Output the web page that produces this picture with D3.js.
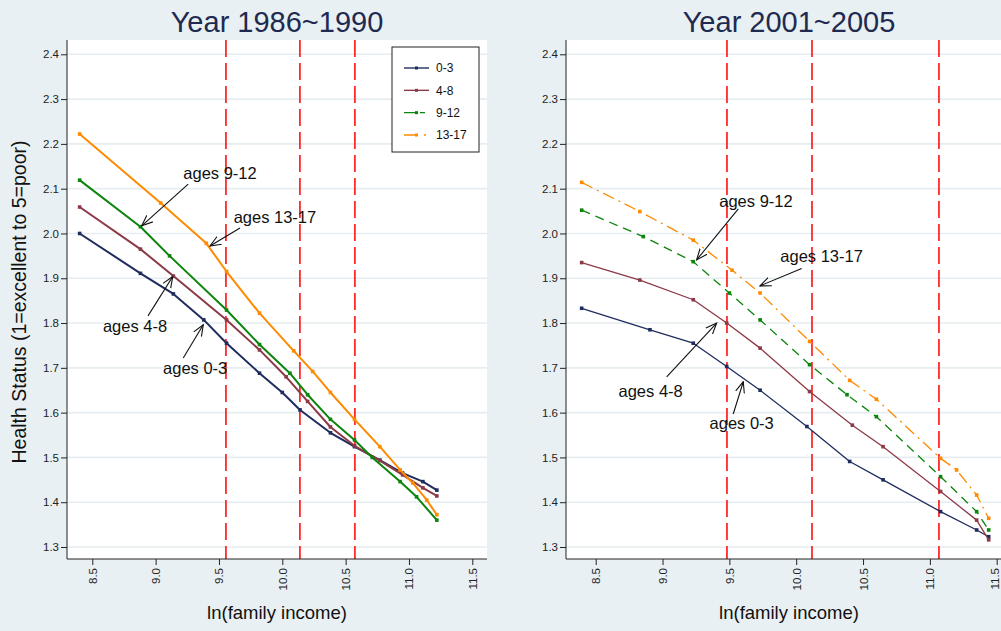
<!DOCTYPE html>
<html>
<head>
<meta charset="utf-8">
<script src="https://cdn.jsdelivr.net/npm/d3@7"></script>
<style>
	body { margin: 0; background: #e9f0f3; }
	text { font-family: "Liberation Sans", Arial, sans-serif; }
</style>
</head>
<body>
<div id="chart"></div>
<script>
/* Data */
var groups = ["0-3", "4-8", "9-12", "13-17"];
var xTicks = [8.5, 9.0, 9.5, 10.0, 10.5, 11.0, 11.5];
var yTicks = [1.3, 1.4, 1.5, 1.6, 1.7, 1.8, 1.9, 2.0, 2.1, 2.2, 2.3, 2.4];

// left panel: 1986~1990
var left03 = [[8.40, 2.000], [8.88, 1.911], [9.14, 1.865], [9.38, 1.807], [9.56, 1.755], [9.82, 1.688], [10.00, 1.645], [10.14, 1.606], [10.38, 1.555], [10.57, 1.524], [10.77, 1.494], [10.95, 1.465], [11.11, 1.446], [11.22, 1.427]];
var left48 = [[8.40, 2.059], [8.88, 1.965], [9.14, 1.905], [9.56, 1.807], [9.82, 1.740], [10.03, 1.680], [10.20, 1.625], [10.38, 1.568], [10.57, 1.526], [10.77, 1.493], [10.95, 1.461], [11.11, 1.432], [11.22, 1.414]];
var left912 = [[8.40, 2.119], [8.88, 2.015], [9.11, 1.950], [9.56, 1.829], [9.82, 1.752], [10.06, 1.688], [10.20, 1.640], [10.38, 1.585], [10.57, 1.539], [10.71, 1.500], [10.93, 1.446], [11.06, 1.412], [11.22, 1.360]];
var left1317 = [[8.40, 2.222], [9.04, 2.068], [9.40, 1.978], [9.56, 1.915], [9.82, 1.822], [10.09, 1.738], [10.24, 1.692], [10.38, 1.645], [10.57, 1.585], [10.77, 1.524], [10.93, 1.472], [11.03, 1.443], [11.14, 1.405], [11.22, 1.372]];
var leftCuts = [9.555, 10.139, 10.573];

// right panel: 2001~2005
var right03 = [[8.395, 1.833], [8.906, 1.785], [9.23, 1.755], [9.48, 1.703], [9.73, 1.650], [10.08, 1.569], [10.40, 1.491], [10.65, 1.450], [11.08, 1.379], [11.35, 1.338], [11.44, 1.323]];
var right48 = [[8.395, 1.935], [8.83, 1.896], [9.23, 1.852], [9.48, 1.800], [9.73, 1.744], [10.10, 1.647], [10.42, 1.572], [10.65, 1.524], [11.08, 1.424], [11.35, 1.360], [11.44, 1.316]];
var right912 = [[8.395, 2.052], [8.856, 1.993], [9.23, 1.937], [9.50, 1.867], [9.73, 1.807], [10.10, 1.707], [10.38, 1.640], [10.60, 1.591], [11.08, 1.457], [11.35, 1.379], [11.44, 1.338]];
var right1317 = [[8.395, 2.114], [8.83, 2.049], [9.23, 1.985], [9.52, 1.918], [9.73, 1.867], [10.10, 1.759], [10.40, 1.672], [10.60, 1.630], [11.08, 1.498], [11.20, 1.472], [11.35, 1.416], [11.44, 1.364]];
var rightCuts = [9.482, 10.118, 11.068];

// annotations: label, text x/y, arrow from x/y, arrow to x/y
var leftNotes = [
	["ages 9-12", 9.508, 2.135, 9.257, 2.110, 8.890, 2.017],
	["ages 13-17", 9.942, 2.037, 9.666, 2.012, 9.429, 1.972],
	["ages 4-8", 8.837, 1.792, 8.940, 1.816, 9.135, 1.904],
	["ages 0-3", 9.312, 1.700, 9.218, 1.722, 9.376, 1.796]
];
var rightNotes = [
	["ages 9-12", 9.699, 2.073, 9.567, 2.055, 9.255, 1.941],
	["ages 13-17", 10.190, 1.950, 10.041, 1.922, 9.729, 1.883],
	["ages 4-8", 8.911, 1.648, 9.031, 1.680, 9.405, 1.800],
	["ages 0-3", 9.592, 1.576, 9.529, 1.597, 9.604, 1.669]
];

var color = ["#1f2d5e", "#8c3a47", "#0b850b", "#ff8a00"];
var dash = [null, null, "9,6", "12,5,2,5"];

var width = 1001;
var height = 631;

var svg = d3.select("#chart").append("svg")
	.attr("width", width)
	.attr("height", height);

svg.append("rect")
	.attr("width", width).attr("height", height)
	.attr("fill", "#e9f0f3");

svg.append("defs").append("marker")
	.attr("id", "arrow")
	.attr("markerUnits", "userSpaceOnUse")
	.attr("viewBox", "0 0 12 12")
	.attr("refX", 11).attr("refY", 6)
	.attr("markerWidth", 12).attr("markerHeight", 12)
	.attr("orient", "auto")
	.append("path")
	.attr("d", "M0,1.5 L11,6 L0,10.5")
	.attr("fill", "none")
	.attr("stroke", "#111")
	.attr("stroke-width", 1.1);

function panel(opt) {
	var x = d3.scaleLinear().domain([8.5, 11.5]).range(opt.xr);
	var y = d3.scaleLinear().domain([1.3, 2.4]).range([547, 54.3]);
	var g = svg.append("g");

	/* plot area */
	g.append("rect")
		.attr("x", opt.left).attr("y", 40)
		.attr("width", opt.right - opt.left).attr("height", 519)
		.attr("fill", "#fff");

	g.selectAll(".grid")
		.data(yTicks).enter()
		.append("line")
		.attr("x1", opt.left).attr("x2", opt.right)
		.attr("y1", d => y(d)).attr("y2", d => y(d))
		.attr("stroke", "#e6edf1")
		.attr("stroke-width", 1.6);

	/* cut lines */
	g.selectAll(".cut")
		.data(opt.cuts).enter()
		.append("line")
		.attr("x1", d => x(d)).attr("x2", d => x(d))
		.attr("y1", 40).attr("y2", 559)
		.attr("stroke", "#ff2a2a")
		.attr("stroke-width", 1.8)
		.attr("stroke-dasharray", "17,6");

	/* lines */
	var line = d3.line()
		.x(d => x(d[0]))
		.y(d => y(d[1]));

	opt.series.forEach(function(s, i) {
		g.append("path")
			.attr("d", line(s))
			.attr("fill", "none")
			.attr("stroke", color[i])
			.attr("stroke-width", opt.lw)
			.attr("stroke-linejoin", "round")
			.attr("stroke-dasharray", opt.dashed ? dash[i] : null);
		g.selectAll(null)
			.data(s).enter()
			.append("rect")
			.attr("x", d => x(d[0]) - 1.8)
			.attr("y", d => y(d[1]) - 1.8)
			.attr("width", 3.6).attr("height", 3.6)
			.attr("fill", color[i]);
	});

	/* notes */
	opt.notes.forEach(function(n) {
		g.append("text")
			.attr("x", x(n[1])).attr("y", y(n[2]))
			.attr("dy", "0.35em")
			.attr("text-anchor", "middle")
			.attr("font-size", "16.5px")
			.attr("fill", "#111")
			.text(n[0]);
		g.append("line")
			.attr("x1", x(n[3])).attr("y1", y(n[4]))
			.attr("x2", x(n[5])).attr("y2", y(n[6]))
			.attr("stroke", "#111")
			.attr("stroke-width", 1.1)
			.attr("marker-end", "url(#arrow)");
	});

	/* axes */
	var yAxis = d3.axisLeft(y).tickValues(yTicks).tickSize(6).tickFormat(d3.format(".1f"));
	g.append("g")
		.attr("transform", `translate(${opt.left}, 0)`)
		.call(yAxis)
		.call(a => a.select(".domain").attr("d", `M0,40V559`).attr("stroke", "#222"))
		.call(a => a.selectAll("text").attr("font-size", "11.5px").attr("fill", "#222").attr("x", -8))
		.call(a => a.selectAll(".tick line").attr("stroke", "#222"));

	var xAxis = d3.axisBottom(x).tickValues(xTicks).tickSize(6).tickFormat(d3.format(".1f"));
	g.append("g")
		.attr("transform", "translate(0, 559)")
		.call(xAxis)
		.call(a => a.select(".domain").attr("d", `M${opt.left},0H${opt.right}`).attr("stroke", "#222"))
		.call(a => a.selectAll(".tick line").attr("stroke", "#222"))
		.call(a => a.selectAll("text")
			.attr("font-size", "11.5px").attr("fill", "#222")
			.attr("transform", "rotate(-90)")
			.attr("text-anchor", "end")
			.attr("x", -9).attr("y", d => x(d) > 990 ? -2 : 0).attr("dy", "0.35em"));

	g.append("text")
		.attr("x", opt.mid).attr("y", 619)
		.attr("text-anchor", "middle")
		.attr("font-size", "18.5px")
		.attr("fill", "#111")
		.text("ln(family income)");

	g.append("text")
		.attr("x", opt.mid).attr("y", 32)
		.attr("text-anchor", "middle")
		.attr("font-size", "29px")
		.attr("fill", "#1e2a50")
		.text(opt.title);

	return g;
}

panel({title: "Year 1986~1990", left: 67, right: 487, mid: 277, xr: [92.3, 472.3],
	series: [left03, left48, left912, left1317], cuts: leftCuts, notes: leftNotes, lw: 2, dashed: false});
panel({title: "Year 2001~2005", left: 566, right: 1001, mid: 789, xr: [595.7, 996.7],
	series: [right03, right48, right912, right1317], cuts: rightCuts, notes: rightNotes, lw: 1.3, dashed: true});

/* y axis title */
svg.append("text")
	.attr("transform", "translate(26, 302) rotate(-90)")
	.attr("text-anchor", "middle")
	.attr("font-size", "19.5px")
	.attr("fill", "#111")
	.text("Health Status (1=excellent to 5=poor)");

/* legend */
var legend = svg.append("g").attr("transform", "translate(392, 47)");
legend.append("rect")
	.attr("width", 87).attr("height", 105)
	.attr("fill", "#fff")
	.attr("stroke", "#222")
	.attr("stroke-width", 1);

var legendY = d3.scalePoint().domain(groups).range([21, 88]);

legend.selectAll(".item")
	.data(groups).enter()
	.append("line")
	.attr("x1", 12).attr("x2", 37)
	.attr("y1", d => legendY(d)).attr("y2", d => legendY(d))
	.attr("stroke", (d, i) => color[i])
	.attr("stroke-width", 1.4)
	.attr("stroke-dasharray", (d, i) => i == 2 ? "11,5,5" : (i == 3 ? "14,6,2" : null));

legend.selectAll(".item-dot")
	.data(groups).enter()
	.append("rect")
	.attr("x", 23).attr("y", d => legendY(d) - 1.5)
	.attr("width", 3).attr("height", 3)
	.attr("fill", (d, i) => color[i]);

legend.selectAll(".item-text")
	.data(groups).enter()
	.append("text")
	.attr("x", 44).attr("y", d => legendY(d))
	.attr("dy", "0.35em")
	.attr("font-size", "12px")
	.attr("fill", "#111")
	.text(d => d);
</script>
</body>
</html>
